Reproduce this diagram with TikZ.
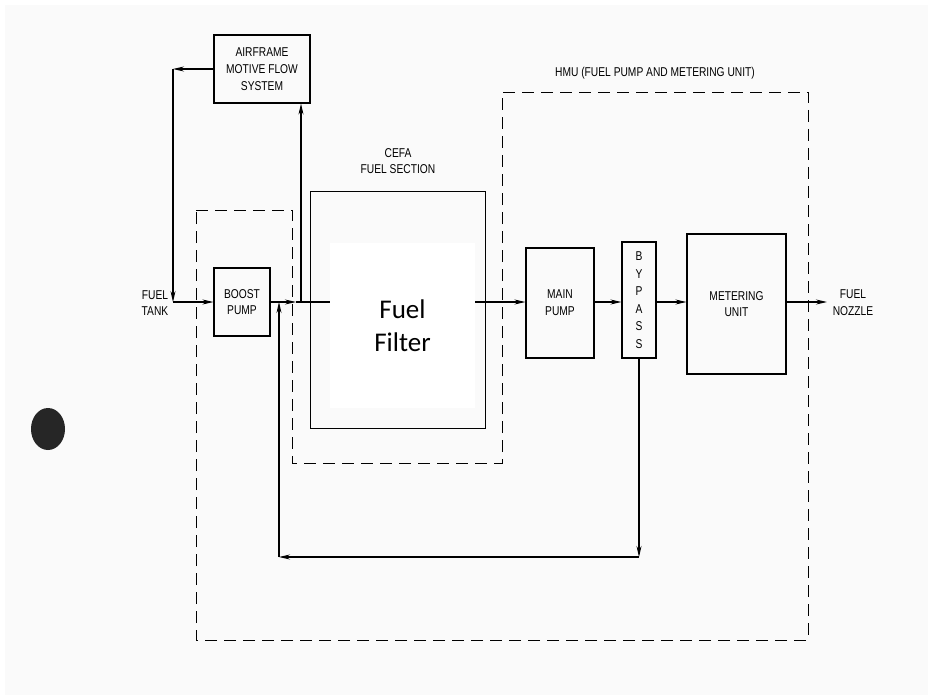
\documentclass[tikz,border=0pt]{standalone}
\usepackage{fontspec}
\setmainfont{Liberation Sans}[FakeStretch=0.8]
\newfontfamily\filterfont{Carlito}
\usetikzlibrary{arrows.meta,positioning}

\begin{document}
\begin{tikzpicture}[x=1pt, y=-1pt,
    unit/.style={draw, line width=1.1pt, inner sep=0pt, align=center,
      font=\fontsize{12.8}{16.7}\selectfont},
    lbl/.style={align=center, inner sep=0pt, font=\fontsize{12.8}{16.7}\selectfont},
    flow/.style={line width=1.1pt},
    arr/.style={flow, -{Stealth[length=11pt, width=5pt]}},
    section/.style={line width=0.95pt, dash pattern=on 12pt off 7pt}
  ]
    \useasboundingbox (0,0) rectangle (928,695);
    \fill[gray!4] (5,5) rectangle (928,695);
    \fill[black!85] (48,429) ellipse [x radius=17pt, y radius=21pt];

    % section borders
    \draw[section] (196,210) -- (292,210) -- (292,463) -- (502,463) -- (502,92)
      -- (808,92) -- (808,640) -- (196,640) -- cycle;
    \node[lbl] (hmulbl) at (655,73) {HMU (FUEL PUMP AND METERING UNIT)};
    \node[lbl] (cefalbl) at (398,161) {CEFA\\FUEL SECTION};

    % units
    \node[unit, minimum width=96pt, minimum height=68pt] (air) at (262,69)
      {AIRFRAME\\MOTIVE FLOW\\SYSTEM};
    \node[unit, minimum width=56pt, minimum height=68pt] (boost) at (242,302)
      {BOOST\\PUMP};
    \node[unit, minimum width=175pt, minimum height=237pt] (cefa) at (398,310) {};
    \node[fill=white, inner sep=0pt, minimum width=145pt, minimum height=165pt,
      align=center, font=\filterfont\fontsize{27}{33}\selectfont] (filter)
      at (402.5,325.5) {Fuel\\Filter};
    \node[unit, minimum width=68pt, minimum height=110pt] (main) at (560,303)
      {MAIN\\PUMP};
    \node[unit, minimum width=34pt, minimum height=116pt,
      font=\fontsize{12.8}{17.5}\selectfont] (bypass) at (639,300)
      {B\\Y\\P\\A\\S\\S};
    \node[unit, minimum width=99pt, minimum height=140pt] (meter) at (736.5,304)
      {METERING\\UNIT};
    \node[lbl] (tank) at (155,303) {FUEL\\TANK};
    \node[lbl] (nozzle) at (853,303) {FUEL\\NOZZLE};

    \coordinate (ct) at (173,302);
    \coordinate (c1) at (air.west -| ct);
    \coordinate (ja) at (296,302);
    \coordinate (jb) at (301,302);
    \coordinate (r1) at (bypass.south |- 0,557);
    \coordinate (r2) at (279,557);

    % flow lines
    \draw[arr] (air.west |- c1) -- (c1);
    \draw[arr] (c1) -- (ct);
    \draw[arr] (ct) -- (boost.west |- ct);
    \draw[arr] (boost.east |- ct) -- (ja);
    \draw[flow] (ja) -- (filter.west |- ct);
    \draw[arr] (jb) -- (air.south -| jb);
    \draw[arr] (filter.east |- ct) -- (main.west |- ct);
    \draw[arr] (main.east |- ct) -- (bypass.west |- ct);
    \draw[arr] (bypass.east |- ct) -- (meter.west |- ct);
    \draw[arr] (meter.east |- ct) -- (827,302);
    \draw[arr] (bypass.south) -- (r1);
    \draw[arr] (r1) -- (r2);
    \draw[arr] (r2) -- (r2 |- ct);
  \end{tikzpicture}
\end{document}
